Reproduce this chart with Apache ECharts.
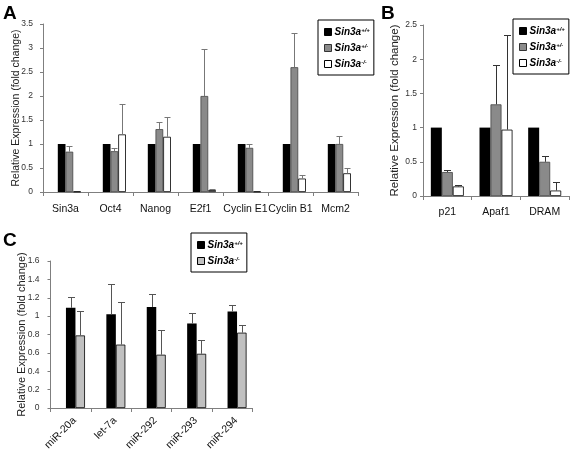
<!DOCTYPE html>
<html><head><meta charset="utf-8">
<script src="https://cdn.jsdelivr.net/npm/echarts@6/dist/echarts.min.js"></script>
<style>html,body{margin:0;padding:0;background:#fff}#c{width:570px;height:456px}</style>
</head><body><div id="c"></div>
<script>
// ---- Data ----
const catsA = ['Sin3a', 'Oct4', 'Nanog', 'E2f1', 'Cyclin E1', 'Cyclin B1', 'Mcm2'];
const wtA = [1, 1, 1, 1, 1, 1, 1];
const hetA = [0.84, 0.85, 1.31, 2.0, 0.92, 2.6, 1.0];
const hetErrA = [0.11, 0.07, 0.15, 0.98, 0.09, 0.71, 0.16];
const koA = [0.01, 1.2, 1.15, 0.04, 0.01, 0.28, 0.39];
const koErrA = [0, 0.63, 0.41, 0.03, 0, 0.08, 0.12];

const catsB = ['p21', 'Apaf1', 'DRAM'];
const wtB = [1, 1, 1];
const hetB = [0.35, 1.34, 0.5];
const hetErrB = [0.03, 0.58, 0.09];
const koB = [0.14, 0.97, 0.08];
const koErrB = [0.02, 1.38, 0.12];

const catsC = ['miR-20a', 'let-7a', 'miR-292', 'miR-293', 'miR-294'];
const wtC = [1.09, 1.02, 1.10, 0.92, 1.05];
const wtErrC = [0.12, 0.33, 0.14, 0.11, 0.07];
const koC = [0.79, 0.69, 0.58, 0.59, 0.82];
const koErrC = [0.27, 0.46, 0.27, 0.15, 0.08];

const yTicksA = {min: 0, max: 3.5, interval: 0.5};
const yTicksB = {min: 0, max: 2.5, interval: 0.5};
const yTicksC = {min: 0, max: 1.6, interval: 0.2};

const nWT = 'Sin3a+/+', nHET = 'Sin3a+/-', nKO = 'Sin3a-/-';

// ---- Chart ----
const FF = '"Liberation Sans", Arial, sans-serif';
const chart = echarts.init(document.getElementById('c'), null, {renderer: 'canvas'});

function errSeries(ai, vals, errs, offFactor, barW, color, capW) {
  return {
    type: 'custom', xAxisIndex: ai, yAxisIndex: ai, silent: true, z: 5,
    data: vals.map((v, i) => [i, v, errs[i]]),
    encode: {x: 0, y: 1},
    renderItem(params, api) {
      const e = api.value(2);
      if (!e) return;
      const base = api.coord([api.value(0), api.value(1)]);
      const top = api.coord([api.value(0), api.value(1) + e]);
      const x = Math.round(base[0] + offFactor * barW) + 0.5;
      const ty = Math.round(top[1]) + 0.5;
      return {type: 'group', children: [
        {type: 'line', shape: {x1: x, y1: base[1], x2: x, y2: ty}, style: {stroke: color, lineWidth: 1}},
        {type: 'line', shape: {x1: x - capW / 2, y1: ty, x2: x + capW / 2, y2: ty}, style: {stroke: color, lineWidth: 1}}
      ]};
    }
  };
}

function barSeries(ai, name, data, color, border, bw) {
  return {
    type: 'bar', name: name, xAxisIndex: ai, yAxisIndex: ai, data: data,
    barWidth: bw, barGap: '0%',
    itemStyle: {color: color, borderColor: border, borderWidth: border ? 0.8 : 0},
    silent: true
  };
}

function xAxisCfg(ai, cats, margin, extraLabel) {
  return {
    type: 'category', gridIndex: ai, data: cats,
    axisLine: {lineStyle: {color: '#7f7f7f', width: 1}},
    axisTick: {show: true, length: 4, lineStyle: {color: '#7f7f7f'}},
    axisLabel: Object.assign({interval: 0, color: '#111', fontFamily: FF, fontSize: 10.5, margin: margin}, extraLabel || {})
  };
}
function yAxisCfg(ai, t, fs, gap, lm) {
  return {
    type: 'value', gridIndex: ai, min: t.min, max: t.max, interval: t.interval,
    splitLine: {show: false},
    axisLine: {show: true, lineStyle: {color: '#7f7f7f', width: 1}},
    axisTick: {show: true, length: 3, lineStyle: {color: '#7f7f7f'}},
    axisLabel: {color: '#333', fontFamily: FF, fontSize: 8.5, margin: lm},
    name: 'Relative Expression (fold change)', nameLocation: 'middle', nameGap: gap,
    nameMoveOverlap: false,
    nameTextStyle: {color: '#222', fontFamily: FF, fontSize: fs}
  };
}

const rich = {
  i: {fontFamily: FF, fontStyle: 'italic', fontWeight: 'bold', fontSize: 10, color: '#000'},
  s: {fontFamily: FF, fontStyle: 'italic', fontWeight: 'bold', fontSize: 6, color: '#000', verticalAlign: 'top', padding: [0, 0, 4, 0]}
};
function legendCfg(left, top, items, gap) {
  return {
    left: left, top: top, orient: 'vertical', selectedMode: false,
    padding: [7, 4, 6, 6], itemGap: gap, itemWidth: 7, itemHeight: 7,
    borderColor: '#000', borderWidth: 1, icon: 'rect',
    data: items,
    formatter: n => '{i|Sin3a}{s|' + n.slice(5) + '}',
    textStyle: {rich: rich, padding: [0, 0, 0, -2]}
  };
}

const wA = 7.7, wB = 11, wC = 9.5;

const option = {
  animation: false,
  backgroundColor: '#fff',
  graphic: [
    {type: 'text', left: 3, top: 4, style: {text: 'A', font: 'bold 19px ' + FF, fill: '#000'}},
    {type: 'text', left: 381, top: 4, style: {text: 'B', font: 'bold 19px ' + FF, fill: '#000'}},
    {type: 'text', left: 3, top: 231, style: {text: 'C', font: 'bold 19px ' + FF, fill: '#000'}}
  ],
  grid: [
    {left: 43, top: 24, width: 315, height: 168},
    {left: 423, top: 25, width: 146, height: 171},
    {left: 50.5, top: 261, width: 202, height: 147}
  ],
  xAxis: [
    xAxisCfg(0, catsA, 12),
    xAxisCfg(1, catsB, 11),
    xAxisCfg(2, catsC, 7, {rotate: 45, verticalAlign: 'top'})
  ],
  yAxis: [
    yAxisCfg(0, yTicksA, 10.5, 21.5, 10),
    yAxisCfg(1, yTicksB, 11.5, 22.5, 6),
    yAxisCfg(2, yTicksC, 11, 23, 11)
  ],
  legend: [
    legendCfg(318, 20, [
      {name: nWT, itemStyle: {color: '#000', borderColor: '#000', borderWidth: 1}},
      {name: nHET, itemStyle: {color: '#8a8a8a', borderColor: '#333', borderWidth: 1}},
      {name: nKO, itemStyle: {color: '#fff', borderColor: '#000', borderWidth: 1}}
    ], 6),
    legendCfg(513, 19, [
      {name: nWT, itemStyle: {color: '#000', borderColor: '#000', borderWidth: 1}},
      {name: nHET, itemStyle: {color: '#8a8a8a', borderColor: '#333', borderWidth: 1}},
      {name: nKO, itemStyle: {color: '#fff', borderColor: '#000', borderWidth: 1}}
    ], 6),
    legendCfg(191, 233, [
      {name: nWT, itemStyle: {color: '#000', borderColor: '#000', borderWidth: 1}},
      {name: nKO, itemStyle: {color: '#c0c0c0', borderColor: '#000', borderWidth: 1}}
    ], 6)
  ],
  series: [
    // Panel A (leading empty slot reproduces the right-shifted bar group)
    {type: 'bar', name: '_padA', xAxisIndex: 0, yAxisIndex: 0, data: [], barWidth: wA, barGap: '0%'},
    barSeries(0, nWT, wtA, '#000', null, wA),
    barSeries(0, nHET, hetA, '#8a8a8a', '#444', wA),
    barSeries(0, nKO, koA, '#fff', '#000', wA),
    errSeries(0, hetA, hetErrA, 0.5, wA, '#777', 6),
    errSeries(0, koA, koErrA, 1.5, wA, '#777', 6),
    // Panel B
    barSeries(1, nWT, wtB, '#000', null, wB),
    barSeries(1, nHET, hetB, '#8a8a8a', '#444', wB),
    barSeries(1, nKO, koB, '#fff', '#000', wB),
    errSeries(1, hetB, hetErrB, 0, wB, '#333', 7),
    errSeries(1, koB, koErrB, 1, wB, '#333', 7),
    // Panel C
    {type: 'bar', name: '_padC', xAxisIndex: 2, yAxisIndex: 2, data: [], barWidth: wC, barGap: '0%'},
    barSeries(2, nWT, wtC, '#000', null, wC),
    barSeries(2, nKO + ' ', koC, '#c0c0c0', '#000', wC),
    errSeries(2, wtC, wtErrC, 0, wC, '#555', 7),
    errSeries(2, koC, koErrC, 1, wC, '#555', 7)
  ]
};
chart.setOption(option);
</script>
</body></html>
